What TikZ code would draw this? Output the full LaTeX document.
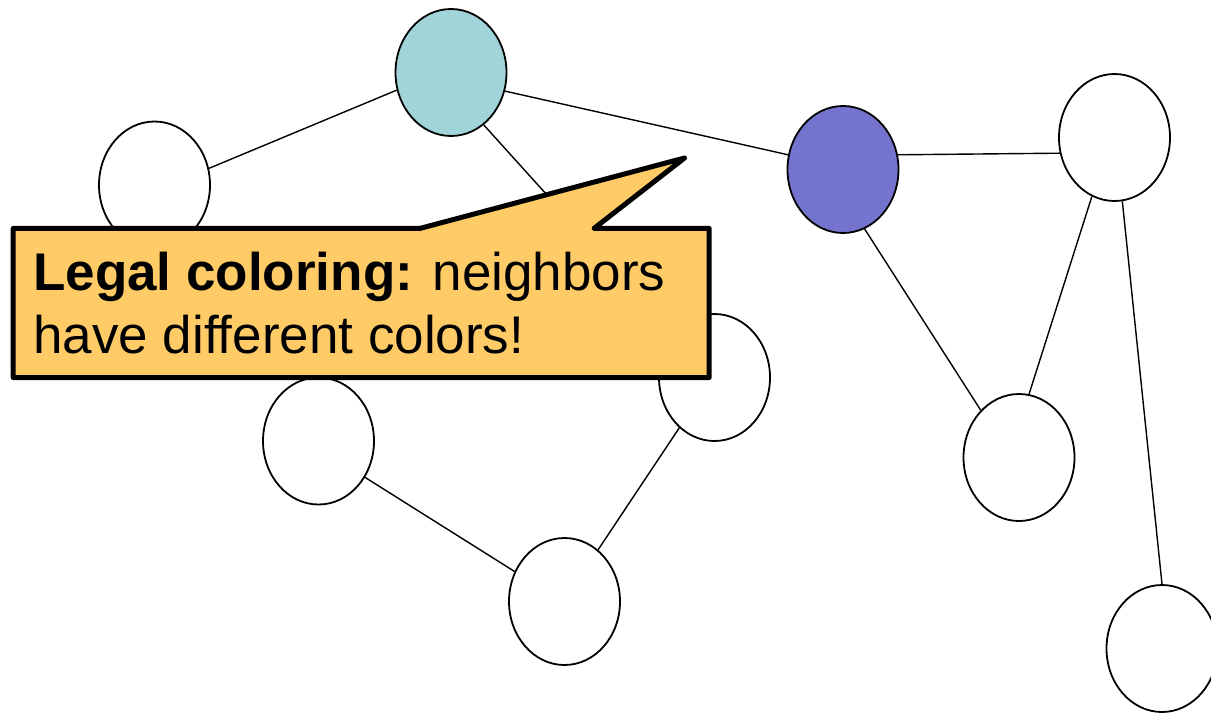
\documentclass[tikz,border=0pt]{standalone}
\usepackage{fontspec}
\setmainfont{Liberation Sans}
\usetikzlibrary{shapes.geometric}
\definecolor{tealfill}{HTML}{A0D4D8}
\definecolor{purplefill}{HTML}{7474CE}
\definecolor{calloutfill}{HTML}{FECB66}
\begin{document}
\begin{tikzpicture}[x=1pt,y=-1pt,
  vertex/.style={ellipse, draw, line width=1.8pt, minimum width=111pt, minimum height=127pt, inner sep=0pt, fill=white},
  edge/.style={line width=1.4pt},
  callout/.style={draw, line width=5pt, line join=round, fill=calloutfill},
  txt/.style={anchor=base west, inner sep=0pt, font=\fontsize{53}{63}\selectfont}]
\useasboundingbox (0,0) rectangle (1211,713);
\clip (0,0) rectangle (1211,713);
\node[vertex, fill=tealfill] (a) at (451,72.5) {};
\node[vertex] (b) at (154.5,185) {};
\node[vertex, fill=purplefill] (c) at (843,169.5) {};
\node[vertex] (d) at (1114.5,137.5) {};
\node[vertex] (e) at (714.5,377.5) {};
\node[vertex] (f) at (318.5,441) {};
\node[vertex] (g) at (564.5,601.5) {};
\node[vertex] (h) at (1019,457.5) {};
\node[vertex] (i) at (1162,648.5) {};
\draw[edge] (a.198) -- (b.17);
\draw[edge] (a.341) -- (c.165.5);
\draw[edge] (a.302) -- (e.134);
\draw[edge] (c.15.5) -- (d.196.6);
\draw[edge] (c.290.4) -- (h.129.5);
\draw[edge] (d.249.7) -- (h.81);
\draw[edge] (d.277.3) -- (i.90.9);
\draw[edge] (e.235.9) -- (g.57.6);
\draw[edge] (f.322) -- (g.149.4);
\draw[callout] (13.2,228.4) -- (420,228.4) -- (684.5,158) -- (594,228.4) -- (709.2,228.4) -- (709.2,377.5) -- (13.2,377.5) -- cycle;
\node[txt] (t1) at (33,290) {\textbf{Legal coloring:} neighbors};
\node[txt] (t2) at (33,353) {have different colors!};
\end{tikzpicture}
\end{document}
